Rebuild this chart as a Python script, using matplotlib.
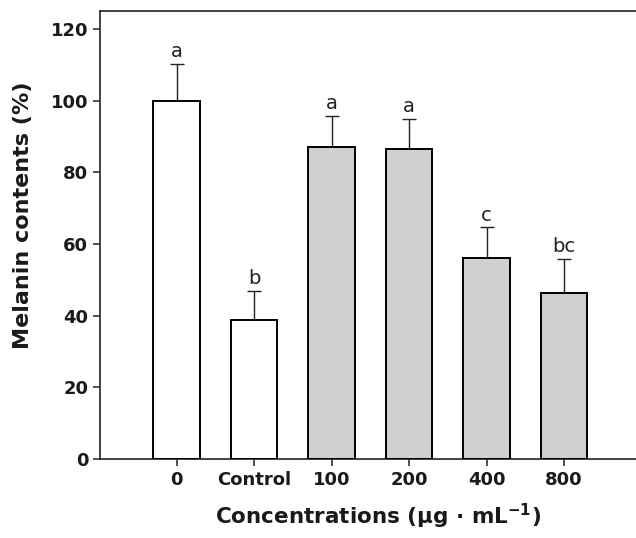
import matplotlib
matplotlib.use("Agg")
import matplotlib.pyplot as plt
import numpy as np

# values
categories = ["0", "Control", "100", "200", "400", "800"]
melanin = [100.0, 38.9, 87.0, 86.6, 56.0, 46.2]
errors = [10.3, 8.0, 8.7, 8.2, 8.6, 9.6]
letters = ["a", "b", "a", "a", "c", "bc"]
fills = ["white", "white", "#d0d0d0", "#d0d0d0", "#d0d0d0", "#d0d0d0"]

fig = plt.figure(figsize=(6.36, 5.38), dpi=100)
ax = fig.add_axes([100 / 636, 79 / 538, 536 / 636, 448 / 538])

x = np.arange(len(categories))
ax.bar(x, melanin, width=0.6, color=fills, edgecolor="black", linewidth=1.4, zorder=3)

# upper error bars only
ax.errorbar(x, melanin, yerr=[np.zeros(len(errors)), errors], fmt="none",
            ecolor="#222222", elinewidth=1.0, capsize=5, capthick=1.0, zorder=2)

# significance letters above the error bars
for xi, m, e, lab in zip(x, melanin, errors, letters):
    ax.annotate(lab, (xi, m + e), xytext=(0, 5), textcoords="offset points",
                ha="center", va="baseline", fontsize=14, color="#222222")

ax.set_xlim(-0.99, 5.93)
ax.set_ylim(0, 125)
ax.set_yticks([0, 20, 40, 60, 80, 100, 120])
ax.set_xticks(x)
ax.set_xticklabels(categories)

for lbl in ax.get_xticklabels() + ax.get_yticklabels():
    lbl.set_fontweight("bold")
    lbl.set_fontsize(13)
    lbl.set_color("#1a1a1a")

ax.tick_params(direction="out", length=5, width=1.1, pad=3.5, color="#222222")
ax.spines["right"].set_visible(False)
for s in ["left", "bottom", "top"]:
    ax.spines[s].set_linewidth(1.2)
    ax.spines[s].set_color("#222222")

ax.set_ylabel("Melanin contents (%)", fontsize=16, fontweight="bold", color="#1a1a1a")
ax.set_xlabel(r"Concentrations (µg · mL$^{\mathbf{-1}}$)", fontsize=15.5,
              fontweight="bold", color="#1a1a1a")
ax.yaxis.set_label_coords(-0.125, 0.545)
ax.xaxis.set_label_coords(0.519, -0.096)

fig.savefig("out.png", dpi=100)
